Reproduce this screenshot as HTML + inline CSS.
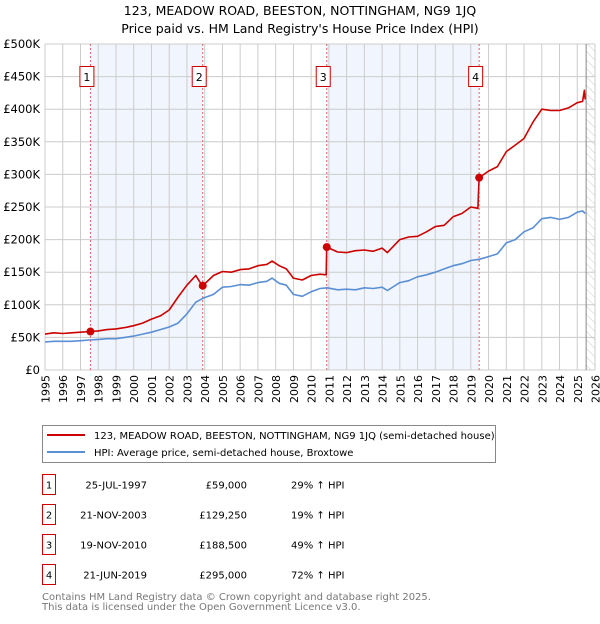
<!DOCTYPE html>
<html><head><meta charset="utf-8"><style>
body{margin:0;background:#fff;font-family:"DejaVu Sans","Liberation Sans",sans-serif;}
svg text{font-family:"DejaVu Sans","Liberation Sans",sans-serif;}
</style></head><body>
<svg id="c" width="600" height="620" xmlns="http://www.w3.org/2000/svg">
<text x="300" y="15" text-anchor="middle" font-size="12.5">123, MEADOW ROAD, BEESTON, NOTTINGHAM, NG9 1JQ</text>
<text x="300" y="33" text-anchor="middle" font-size="12.5">Price paid vs. HM Land Registry's House Price Index (HPI)</text>
<g id="plot"></g>
<g>
<rect x="42.5" y="425.5" width="453" height="37" fill="#fff" stroke="#888" stroke-width="1"/>
<line x1="47" y1="435" x2="85" y2="435" stroke="#cc0000" stroke-width="2"/>
<text x="94" y="439" font-size="10">123, MEADOW ROAD, BEESTON, NOTTINGHAM, NG9 1JQ (semi-detached house)</text>
<line x1="47" y1="452" x2="85" y2="452" stroke="#5b8fd4" stroke-width="2"/>
<text x="94" y="456" font-size="10">HPI: Average price, semi-detached house, Broxtowe</text>
</g>
<g id="table" font-size="10"></g>
<text x="42" y="600" font-size="10" fill="#777">Contains HM Land Registry data © Crown copyright and database right 2025.</text>
<text x="42" y="610" font-size="10" fill="#777">This data is licensed under the Open Government Licence v3.0.</text>
</svg>
<script>
const hpiYears=[1995,1995.5,1996,1996.5,1997,1997.5,1998,1998.5,1999,1999.5,2000,2000.5,2001,2001.5,2002,2002.5,2003,2003.5,2003.9,2004.5,2005,2005.5,2006,2006.5,2007,2007.5,2007.8,2008.2,2008.6,2009,2009.5,2010,2010.5,2010.9,2011.5,2012,2012.5,2013,2013.5,2014,2014.3,2015,2015.5,2016,2016.5,2017,2017.5,2018,2018.5,2019,2019.5,2020,2020.5,2021,2021.5,2022,2022.5,2023,2023.5,2024,2024.5,2025,2025.3,2025.45];
const hpiValues=[43,44,44,44,45,46,47,48,48,50,52,55,58,62,66,72,86,104,110,116,127,128,131,130,134,136,141,133,130,116,113,120,125,126,123,124,123,126,125,127,122,134,137,143,146,150,155,160,163,168,170,174,178,195,200,212,218,232,234,231,234,242,244,240];
const priceYears=[1995,1995.5,1996,1996.5,1997,1997.56,1998,1998.5,1999,1999.5,2000,2000.5,2001,2001.5,2002,2002.5,2003,2003.5,2003.7,2003.89,2004.5,2005,2005.5,2006,2006.5,2007,2007.5,2007.8,2008.2,2008.6,2009,2009.5,2010,2010.5,2010.85,2010.88,2011.5,2012,2012.5,2013,2013.5,2014,2014.3,2015,2015.5,2016,2016.5,2017,2017.5,2018,2018.5,2019,2019.4,2019.47,2020,2020.5,2021,2021.5,2022,2022.5,2023,2023.5,2024,2024.5,2025,2025.3,2025.4,2025.45];
const priceValues=[55,57,56,57,58,59,60,62,63,65,68,72,78,83,92,112,130,145,136,129.25,145,151,150,154,155,160,162,167,160,155,141,138,145,147,146,188.5,181,180,183,184,182,187,180,200,204,205,212,220,222,235,240,250,248,295,305,312,335,345,355,380,400,398,398,402,410,412,429,415];
const saleLabels=['1','2','3','4'];
const saleYears=[1997.56,2003.89,2010.88,2019.47];
const saleDates=['25-JUL-1997','21-NOV-2003','19-NOV-2010','21-JUN-2019'];
const salePrices=[59,129.25,188.5,295];
const salePriceText=['£59,000','£129,250','£188,500','£295,000'];
const saleHpiText=['29% ↑ HPI','19% ↑ HPI','49% ↑ HPI','72% ↑ HPI'];
const yTicks=[0,50,100,150,200,250,300,350,400,450,500];
const yTickLabels=['£0','£50K','£100K','£150K','£200K','£250K','£300K','£350K','£400K','£450K','£500K'];
const xTicks=[1995,1996,1997,1998,1999,2000,2001,2002,2003,2004,2005,2006,2007,2008,2009,2010,2011,2012,2013,2014,2015,2016,2017,2018,2019,2020,2021,2022,2023,2024,2025,2026];

const NS='http://www.w3.org/2000/svg';
const X0=45,X1=595,Y0=370,Y1=44;
const xs=y=>X0+(y-1995)/(2026-1995)*(X1-X0);
const ys=v=>Y0-v/500*(Y0-Y1);
function mk(tag,attrs,parent,txt){const e=document.createElementNS(NS,tag);for(const k in attrs)e.setAttribute(k,attrs[k]);if(txt!==undefined)e.textContent=txt;parent.appendChild(e);return e;}
const P=document.getElementById('plot');
for(const [a,b] of [[0,1],[2,3]]){
  const r=mk('rect',{x:xs(saleYears[a]),y:Y1,width:xs(saleYears[b])-xs(saleYears[a]),height:Y0-Y1,fill:'#eef3fc',opacity:0.8},P);
  
  
}
const defs=mk('defs',{},P);
const pat=mk('pattern',{id:'h',width:6,height:6,patternUnits:'userSpaceOnUse',patternTransform:'rotate(-45)'},defs);
mk('line',{x1:0,y1:0,x2:0,y2:6,stroke:'#ccc','stroke-width':1},pat);
const fx=xs(2025.5);
const hz=mk('rect',{x:fx,y:Y1,width:X1-fx,height:Y0-Y1,fill:'url(#h)'},P);


for(const t of xTicks){const l=mk('line',{x1:xs(t),x2:xs(t),y1:Y1,y2:Y0,stroke:'#ccc','stroke-width':1},P);
  
  
  const tx=mk('text',{x:0,y:0,transform:`translate(${xs(t)+4.5},${Y0+5}) rotate(-90)`,'text-anchor':'end','font-size':11},P,String(t));
  
  
}
yTicks.forEach((t,i)=>{const l=mk('line',{x1:X0,x2:X1,y1:ys(t),y2:ys(t),stroke:'#ccc','stroke-width':1},P);
  
  
  const tx=mk('text',{x:X0-5,y:ys(t)+4,'text-anchor':'end','font-size':11.5},P,yTickLabels[i]);
  
  
});
const nowL=mk('line',{x1:fx,x2:fx,y1:Y1,y2:Y0,stroke:'#888','stroke-width':1},P);


saleYears.forEach((y,i)=>{
  const l=mk('line',{x1:xs(y),x2:xs(y),y1:Y1,y2:Y0,stroke:'#e06060','stroke-width':1,'stroke-dasharray':'2,2'},P);
  
  
  const r=mk('rect',{x:xs(y)-10.5,y:66.5,width:14,height:20,fill:'#fff',stroke:'#cc0000','stroke-width':1},P);
  
  
  const t=mk('text',{x:xs(y)-3.5,y:81,'text-anchor':'middle','font-size':11},P,saleLabels[i]);
  
  
});
function line(xa,va,color,name){
  const d=xa.map((x,i)=>(i?'L':'M')+xs(x).toFixed(1)+','+ys(va[i]).toFixed(1)).join('');
  const p=mk('path',{d,fill:'none',stroke:color,'stroke-width':1.6,'stroke-linejoin':'round'},P);
  
  
}
line(hpiYears,hpiValues,'#5b8fd4','hpi-line');
line(priceYears,priceValues,'#cc0000','price-paid-line');
saleYears.forEach((y,i)=>{
  const c=mk('circle',{cx:xs(y),cy:ys(salePrices[i]),r:4,fill:'#cc0000'},P);
  
  
});
const T=document.getElementById('table');
saleLabels.forEach((s,i)=>{
  const cy=485+i*30;
  const r=mk('rect',{x:42.5,y:cy-10.5,width:13,height:20,fill:'#fff',stroke:'#cc0000','stroke-width':1},T);
  
  
  const a=mk('text',{x:49,y:cy+3.5,'text-anchor':'middle'},T,s);
  
  
  const b=mk('text',{x:147,y:cy+3.5,'text-anchor':'end'},T,saleDates[i]);
  
  
  const c=mk('text',{x:247,y:cy+3.5,'text-anchor':'end'},T,salePriceText[i]);
  
  
  const d=mk('text',{x:291,y:cy+3.5},T,saleHpiText[i]);
  
  
});
</script>
</body></html>
